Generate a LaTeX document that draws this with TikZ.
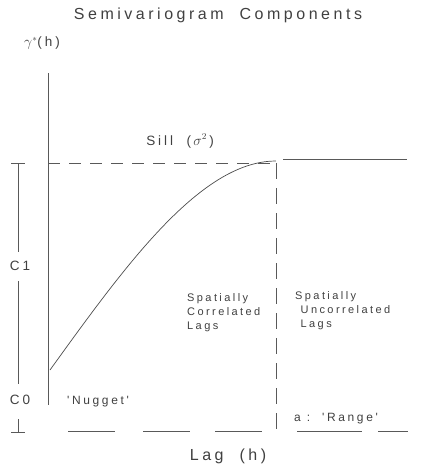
\documentclass[tikz,border=0pt]{standalone}
\usepackage{fontspec}
\setmainfont{Liberation Sans}
\newfontfamily\plotter[LetterSpace=22]{Liberation Sans}
\usetikzlibrary{positioning}

\begin{document}
\begin{tikzpicture}[x=1pt, y=-1pt, every node/.style={text=black!75, inner sep=0pt},
	big/.style={font={\plotter\fontsize{16}{19}\selectfont}},
	mid/.style={font={\plotter\fontsize{13.5}{16}\selectfont}},
	lbl/.style={font={\plotter\fontsize{12}{14}\selectfont}},
	small/.style={font={\plotter\fontsize{11}{14}\selectfont}, align=left, anchor=north west},
	axisline/.style={black!65, line width=0.9pt},
	dashline/.style={black!65, line width=0.9pt, dash pattern=on 12pt off 9pt}]
	\useasboundingbox (0,0) rectangle (427,472);
	% titles
	\node[big] (title) at (218,15) {Semivariogram\ \ Components};
	\node[mid] (gam) at (42,43) {$\gamma^{*}$(h)};
	% axes
	\draw[axisline] (48,73) -- (48,405);
	\foreach \a/\b in {68/115, 143/190, 215/262, 297/362, 378/408}
		\draw[axisline] (\a,431) -- (\b,431);
	\node[big] (lag) at (228,456) {Lag\ \ (h)};
	% sill and range
	\draw[dashline] (48,163) -- (276,163);
	\draw[dashline, dash pattern=on 16pt off 9pt] (276,163) -- (276,432);
	\draw[axisline] (283,159) -- (407,159);
	\draw[black!70, line width=0.7pt] plot[domain=0:1, samples=40, smooth]
		({50+226*\x}, {370-209*(1.5*\x-0.5*\x*\x*\x)});
	\node[mid] (sill) at (180,141) {Sill\ \ (\,$\sigma^{2}$\,)};
	% bracket on the left
	\draw[axisline] (11,163) -- (25,163);
	\draw[axisline] (18,163) -- (18,252);
	\draw[axisline] (18,281) -- (18,384);
	\draw[axisline] (18,419) -- (18,432);
	\draw[axisline] (11,432) -- (25,432);
	\node[mid] (cone) at (20,266) {C1};
	\node[mid] (czero) at (20,400) {C0};
	% labels
	\node[lbl] (nug) at (98,402) {'Nugget'};
	\node[small] (corr) at (187,293) {Spatially\\Correlated\\Lags};
	\node[small] (uncorr) at (295,291) {Spatially\\\ Uncorrelated\\\ Lags};
	\node[lbl, anchor=west] (range) at (294,419) {a\ :\ \ 'Range'};
\end{tikzpicture}
\end{document}
